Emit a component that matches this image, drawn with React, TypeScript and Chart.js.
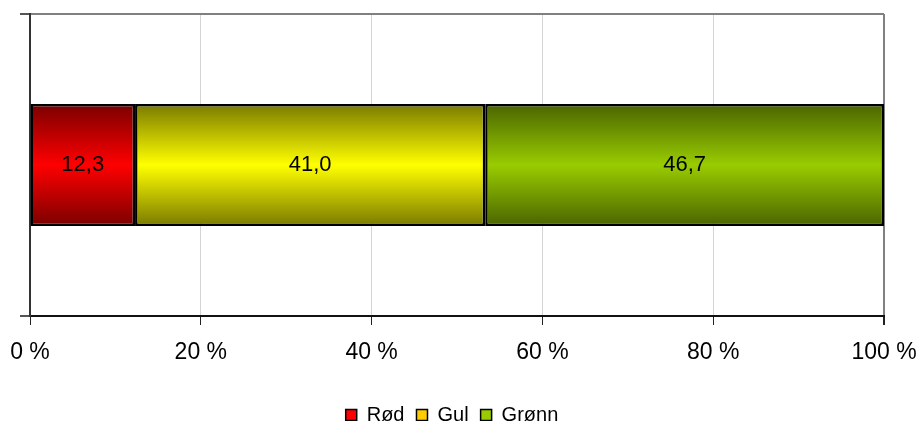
import React, { useEffect, useRef } from 'react';
import { Chart, registerables } from 'chart.js';

Chart.register(...registerables);

const categories = [''];
const seriesNames = ['Rød', 'Gul', 'Grønn'];
const redValues = [12.3];
const yellowValues = [41.0];
const greenValues = [46.7];
const xTicks = [0, 20, 40, 60, 80, 100];

const legendColors = ['#ff0000', '#ffcc00', '#99cc00'];
const darkColors = ['#7a0000', '#7a7a00', '#4a6400'];
const brightColors = ['#ff0000', '#ffff00', '#99cc00'];

const FONT = '"Liberation Sans", Arial, sans-serif';
const BAR_PCT = 0.404;

const fmt = (v: number) => v.toFixed(1).replace('.', ',');

const gradientFill = (i: number) => (ctx: any) => {
  const chart = ctx.chart;
  const area = chart.chartArea;
  if (!area) return brightColors[i];
  const yScale = chart.scales.y;
  const center = yScale.getPixelForValue(0);
  const thick = (area.bottom - area.top) * BAR_PCT;
  const g = chart.ctx.createLinearGradient(0, center - thick / 2, 0, center + thick / 2);
  g.addColorStop(0, darkColors[i]);
  g.addColorStop(0.5, brightColors[i]);
  g.addColorStop(1, darkColors[i]);
  return g;
};

const dataLabelPlugin = {
  id: 'dataLabels',
  afterDatasetsDraw(chart: any) {
    const c = chart.ctx;
    c.save();
    c.font = `22px ${FONT}`;
    c.fillStyle = '#000';
    c.textAlign = 'center';
    c.textBaseline = 'middle';
    chart.data.datasets.forEach((ds: any, i: number) => {
      const meta = chart.getDatasetMeta(i);
      meta.data.forEach((el: any, j: number) => {
        const p = el.getProps(['x', 'y', 'base'], true);
        c.fillText(fmt(ds.data[j]), (p.x + p.base) / 2, p.y);
      });
    });
    c.restore();
  },
};

export default function App() {
  const ref = useRef<HTMLCanvasElement>(null);
  useEffect(() => {
    if (!ref.current) return;
    const series = [redValues, yellowValues, greenValues];
    const chart = new Chart(ref.current, {
      type: 'bar',
      data: {
        labels: categories,
        datasets: series.map((vals, i) => ({
          label: seriesNames[i],
          data: vals,
          backgroundColor: gradientFill(i),
          borderColor: '#000',
          borderWidth: 2.5,
          borderSkipped: false,
          categoryPercentage: 1,
          barPercentage: BAR_PCT,
        })),
      },
      options: {
        animation: false,
        responsive: false,
        indexAxis: 'y',
        layout: { padding: { left: 20, right: 37, top: 14, bottom: -14 } },
        scales: {
          x: {
            stacked: true,
            min: 0,
            max: 100,
            afterBuildTicks: (s: any) => {
              s.ticks = xTicks.map((v) => ({ value: v }));
            },
            afterFit: (s: any) => {
              s.height = 77;
              s.paddingLeft = 0;
              s.paddingRight = 0;
            },
            ticks: {
              callback: (v: any) => `${v} %`,
              color: '#000',
              font: { size: 23, family: FONT },
              padding: 14,
              maxRotation: 0,
            },
            grid: {
              color: (ctx: any) => (ctx.tick && ctx.tick.value === 100 ? '#808080' : '#d4d4d4'),
              tickColor: '#222',
              tickLength: 9,
              lineWidth: (ctx: any) => (ctx.tick && ctx.tick.value === 100 ? 2 : 1),
            },
            border: { color: '#111', width: 2 },
          },
          y: {
            stacked: true,
            afterFit: (s: any) => {
              s.width = 10;
            },
            ticks: { display: false },
            grid: { color: '#808080', tickColor: '#555', tickLength: 10, lineWidth: 2 },
            border: { color: '#333', width: 2 },
          },
        },
        plugins: {
          legend: {
            position: 'bottom',
            labels: {
              boxWidth: 11,
              boxHeight: 11,
              padding: 12,
              color: '#000',
              font: { size: 20, family: FONT },
              generateLabels: () =>
                seriesNames.map((t, i) => ({
                  text: t,
                  fillStyle: legendColors[i],
                  strokeStyle: '#000',
                  lineWidth: 1.5,
                  hidden: false,
                  datasetIndex: i,
                  fontColor: '#000',
                })),
            },
          },
          tooltip: { enabled: false },
        },
      },
      plugins: [dataLabelPlugin],
    } as any);
    return () => chart.destroy();
  }, []);
  return (
    <div style={{ position: 'absolute', left: 0, top: 0, width: 921, height: 421, background: '#fff' }}>
      <canvas ref={ref} width={921} height={421} style={{ display: 'block' }} />
    </div>
  );
}
